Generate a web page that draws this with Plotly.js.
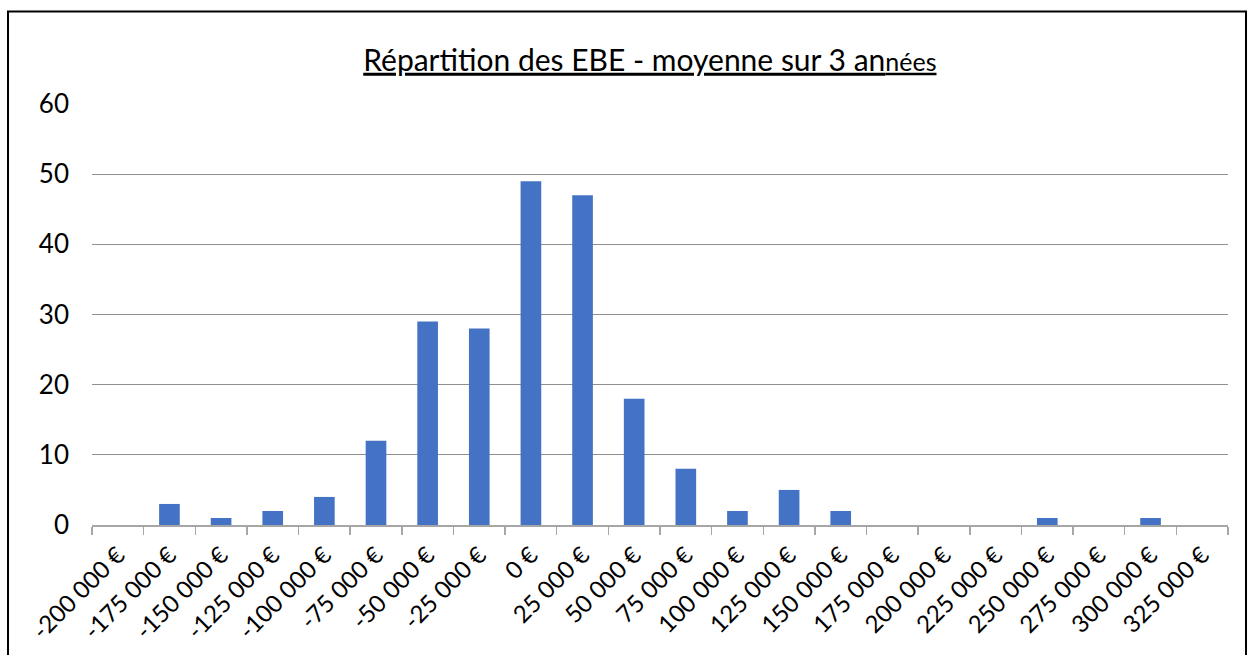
<!DOCTYPE html>
<html>
<head>
<meta charset="utf-8">
<script src="https://cdn.plot.ly/plotly-3.0.1.min.js"></script>
<style>html,body{margin:0;padding:0;background:#fff;}#chart{width:1257px;height:655px;}</style>
</head>
<body>
<div id="chart"></div>
<script>
var categories = ["-200 000 €","-175 000 €","-150 000 €","-125 000 €","-100 000 €","-75 000 €","-50 000 €","-25 000 €","0 €","25 000 €","50 000 €","75 000 €","100 000 €","125 000 €","150 000 €","175 000 €","200 000 €","225 000 €","250 000 €","275 000 €","300 000 €","325 000 €"];
var counts = [0,3,1,2,4,12,29,28,49,47,18,8,2,5,2,0,0,0,1,0,1,0];
var yTicks = [0,10,20,30,40,50,60];
var titleMain = "Répartition des EBE - moyenne sur 3 an";
var titleTail = "nées";

var FONT = "Lato, 'Noto Sans', sans-serif";
var trace = {
  type: "bar",
  x: categories,
  y: counts,
  marker: {color: "#4472C4", line: {width: 0}},
  hoverinfo: "x+y"
};
var layout = {
  width: 1257, height: 655,
  margin: {l: 92, r: 29, t: 104, b: 130, pad: 0},
  paper_bgcolor: "#fff", plot_bgcolor: "#fff",
  bargap: 0.6,
  showlegend: false,
  font: {family: FONT, color: "#000", size: 24},
  title: {
    text: "<u>" + titleMain + "<span style='font-size:25px'>" + titleTail + "</span></u>",
    font: {family: FONT, size: 30, color: "#000"},
    xref: "container", x: 0.517, xanchor: "center",
    yref: "container", y: 0.908, yanchor: "middle"
  },
  xaxis: {
    type: "category",
    tickangle: -45,
    tickson: "boundaries",
    ticks: "outside", ticklen: 8, tickwidth: 1.5, tickcolor: "#a6a6a6",
    showline: true, linecolor: "#a6a6a6", linewidth: 1.5,
    showgrid: false,
    tickfont: {family: FONT, size: 24, color: "#000"},
    ticklabelstandoff: 5,
    fixedrange: true
  },
  yaxis: {
    range: [0, 60],
    tickvals: yTicks,
    ticktext: yTicks.map(String),
    ticks: "",
    showline: false,
    showgrid: true, gridcolor: "#8f8f8f", gridwidth: 1.3,
    zeroline: false,
    tickfont: {family: FONT, size: 26, color: "#000"},
    ticklabelstandoff: 22,
    fixedrange: true
  },
  shapes: [{
    type: "rect", xref: "paper", yref: "paper",
    x0: -0.07394, x1: 1.01585, y0: -0.4157, y1: 1.2197,
    line: {color: "#000", width: 2}, fillcolor: "rgba(0,0,0,0)", layer: "above"
  }]
};
Plotly.newPlot("chart", [trace], layout, {displayModeBar: false, staticPlot: true});
</script>
</body>
</html>
